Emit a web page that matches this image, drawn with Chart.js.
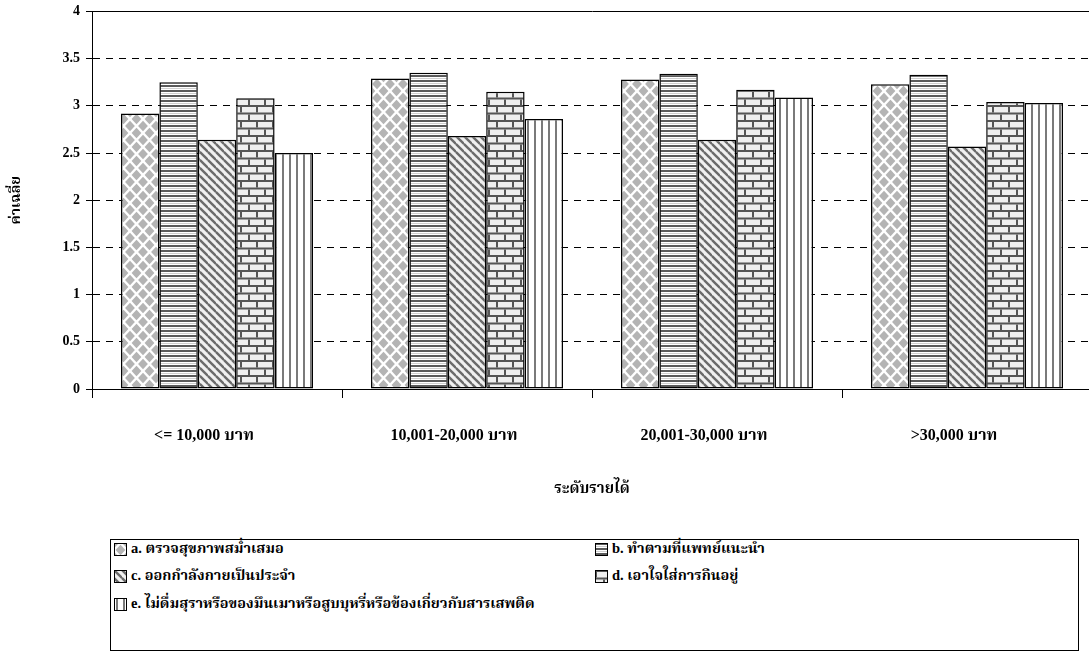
<!DOCTYPE html>
<html><head><meta charset="utf-8">
<script src="https://cdn.jsdelivr.net/npm/chart.js@4.4.0/dist/chart.umd.min.js"></script>
<style>
html,body{margin:0;padding:0;background:#fff;overflow:hidden;}
#wrap{position:relative;width:1089px;height:652px;overflow:hidden;background:#fff;}
#cw{position:absolute;left:0;top:0;width:1100px;height:535px;}
#legend{position:absolute;left:110px;top:539px;width:969px;height:112px;border:1px solid #000;box-sizing:border-box;font:bold 14.5px 'Liberation Serif','Noto Serif Thai','Noto Sans Thai',serif;color:#000;}
.item{position:absolute;display:flex;align-items:center;height:16px;white-space:nowrap;}
.item canvas{width:13px;height:13px;margin-right:4px;display:block;}
</style></head>
<body>
<div id="wrap">
  <div id="cw"><canvas id="c"></canvas></div>
  <div id="legend"></div>
</div>
<script>
const categories = ['<= 10,000 บาท', '10,001-20,000 บาท', '20,001-30,000 บาท', '>30,000 บาท'];
const seriesNames = [
  'a. ตรวจสุขภาพสม่ำเสมอ',
  'b. ทำตามที่แพทย์แนะนำ',
  'c. ออกกำลังกายเป็นประจำ',
  'd. เอาใจใส่การกินอยู่',
  'e. ไม่ดื่มสุราหรือของมึนเมาหรือสูบบุหรี่หรือข้องเกี่ยวกับสารเสพติด'
];
const seriesA = [2.92, 3.29, 3.28, 3.23];
const seriesB = [3.25, 3.35, 3.34, 3.33];
const seriesC = [2.64, 2.68, 2.64, 2.57];
const seriesD = [3.08, 3.15, 3.17, 3.04];
const seriesE = [2.50, 2.86, 3.09, 3.03];
const yTickValues = [0, 0.5, 1, 1.5, 2, 2.5, 3, 3.5, 4];
const yTitle = 'ค่าเฉลี่ย';
const xTitle = 'ระดับรายได้';

const FONT = "'Liberation Serif','Noto Serif Thai','Noto Sans Thai',serif";

function tile(w, h, draw) {
  const cv = document.createElement('canvas');
  cv.width = w; cv.height = h;
  const g = cv.getContext('2d');
  draw(g, w, h);
  return cv;
}
function diamondTile() {
  return tile(13, 14, (g, w, h) => {
    g.fillStyle = '#fff'; g.fillRect(0, 0, w, h);
    g.fillStyle = '#b4b4b4';
    const d = (cx, cy) => { g.beginPath(); g.moveTo(cx, cy - 5.3); g.lineTo(cx + 4.9, cy); g.lineTo(cx, cy + 5.3); g.lineTo(cx - 4.9, cy); g.closePath(); g.fill(); };
    d(w / 2, h / 2); d(0, 0); d(w, 0); d(0, h); d(w, h);
  });
}
function hStripeTile() {
  return tile(4, 5, (g, w, h) => {
    const cols = ['#5a5a5a', '#5a5a5a', '#ffffff', '#cfcfcf', '#ffffff'];
    cols.forEach((c, i) => { g.fillStyle = c; g.fillRect(0, i, w, 1); });
  });
}
function diagTile() {
  return tile(8, 8, (g, w, h) => {
    g.fillStyle = '#f0f0f0'; g.fillRect(0, 0, w, h);
    g.strokeStyle = '#6a6a6a'; g.lineWidth = 2.4;
    [[-8, -8], [0, 0], [8, 8], [-8, 0], [0, -8], [8, 0], [0, 8]].forEach(([ox, oy]) => {
      g.beginPath(); g.moveTo(ox, oy); g.lineTo(ox + w, oy + h); g.stroke();
    });
  });
}
function brickTile() {
  return tile(16, 15, (g, w, h) => {
    g.fillStyle = '#efefef'; g.fillRect(0, 0, w, h);
    g.fillStyle = '#555';
    g.fillRect(0, 0, w, 2);
    g.fillRect(0, 7.5, w, 2);
    g.fillRect(0, 2, 2, 5.5);
    g.fillRect(8, 9.5, 2, 5.5);
  });
}
function vStripeTile() {
  return tile(7, 4, (g, w, h) => {
    g.fillStyle = '#fff'; g.fillRect(0, 0, w, h);
    g.fillStyle = '#7a7a7a'; g.fillRect(2, 0, 2, h);
  });
}
const tiles = [diamondTile(), hStripeTile(), diagTile(), brickTile(), vStripeTile()];
const ctxMain = document.getElementById('c').getContext('2d');
const patterns = tiles.map(t => ctxMain.createPattern(t, 'repeat'));
const seriesValues = [seriesA, seriesB, seriesC, seriesD, seriesE];

Chart.defaults.color = '#000';
Chart.defaults.font.family = FONT;

new Chart(ctxMain, {
  type: 'bar',
  data: {
    labels: categories,
    datasets: seriesValues.map((vals, i) => ({
      label: seriesNames[i],
      data: vals,
      backgroundColor: patterns[i],
      borderColor: '#000',
      borderWidth: 1.5,
      borderSkipped: false,
      categoryPercentage: 0.768,
      barPercentage: 1.0
    }))
  },
  options: {
    responsive: true,
    maintainAspectRatio: false,
    animation: false,
    layout: { padding: { top: 11.5, right: 8, left: 0, bottom: 0 } },
    plugins: { legend: { display: false }, tooltip: { enabled: false } },
    scales: {
      x: {
        afterFit: s => { s.height = 146; },
        grid: { display: true, drawOnChartArea: false, drawTicks: true, tickLength: 9, color: '#000', offset: true },
        border: { display: true, color: '#000', width: 1 },
        ticks: { padding: 28, labelOffset: -13, font: { family: FONT, size: 16, weight: 'bold' }, color: '#000', maxRotation: 0, autoSkip: false },
        title: { display: true, text: xTitle, font: { family: FONT, size: 15, weight: 'bold' }, color: '#000', padding: { top: 0, bottom: 37 } }
      },
      y: {
        min: 0, max: 4,
        afterFit: s => { s.width = 92; s.paddingTop = 0; s.paddingBottom = 0; },
        afterBuildTicks: s => { s.ticks = yTickValues.map(v => ({ value: v })); },
        grid: { color: '#000', lineWidth: 1, drawTicks: true, tickLength: 6, tickColor: '#000' },
        border: {
          display: true, color: '#000', width: 1,
          dash: c => (c.tick && c.tick.value > 0 && c.tick.value < 4) ? [7, 6] : []
        },
        ticks: { padding: 6, font: { family: FONT, size: 14, weight: 'bold' }, color: '#000', callback: v => String(v) },
        title: { display: true, text: yTitle, font: { family: FONT, size: 14, weight: 'bold' }, color: '#000', padding: { top: 8, bottom: 0 } }
      }
    }
  }
});

// HTML legend built from the series
const legend = document.getElementById('legend');
const pos = [[3, 1], [484, 1], [3, 28], [484, 28], [3, 56]];
seriesNames.forEach((name, i) => {
  const it = document.createElement('div');
  it.className = 'item';
  it.style.left = pos[i][0] + 'px';
  it.style.top = pos[i][1] + 'px';
  const sw = document.createElement('canvas');
  sw.width = 13; sw.height = 13;
  const g = sw.getContext('2d');
  g.fillStyle = g.createPattern(tiles[i], 'repeat');
  g.fillRect(0, 0, 13, 13);
  g.strokeStyle = '#000'; g.lineWidth = 1;
  g.strokeRect(0.5, 0.5, 12, 12);
  it.appendChild(sw);
  const sp = document.createElement('span');
  sp.textContent = name;
  it.appendChild(sp);
  legend.appendChild(it);
});
</script>
</body></html>
